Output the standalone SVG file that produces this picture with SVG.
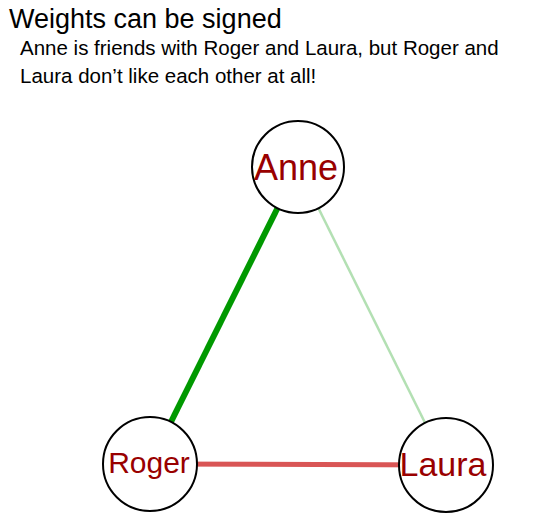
<svg xmlns="http://www.w3.org/2000/svg" width="547" height="521" viewBox="0 0 547 521">
<style>
text{font-family:"Liberation Sans",Arial,sans-serif}
.title{font-size:27px;fill:#000}
.sub{font-size:20.5px;fill:#000}
.node circle{fill:#fff;stroke:#000;stroke-width:2}
.node text{fill:#990000;text-anchor:middle}
</style>
<rect width="547" height="521" fill="#fff"/>
<text class="title" x="9" y="28">Weights can be signed</text>
<text class="sub" x="20" y="55">Anne is friends with Roger and Laura, but Roger and</text>
<text class="sub" x="20" y="83">Laura don’t like each other at all!</text>
<g id="connectors">
<line x1="150" y1="464" x2="298" y2="167" stroke="#009900" stroke-width="6"/>
<line x1="298" y1="167" x2="446" y2="465" stroke="#b3e0b3" stroke-width="2.5"/>
<line x1="150" y1="464" x2="446" y2="465" stroke="#d95555" stroke-width="5"/>
</g>
<g id="node-anne" class="node">
<circle cx="298" cy="167" r="46"/>
<text x="296" y="180" font-size="36">Anne</text>
</g>
<g id="node-roger" class="node">
<circle cx="150" cy="464" r="47"/>
<text x="149" y="473" font-size="30">Roger</text>
</g>
<g id="node-laura" class="node">
<circle cx="446" cy="465" r="47"/>
<text x="443" y="476" font-size="34">Laura</text>
</g>
</svg>
